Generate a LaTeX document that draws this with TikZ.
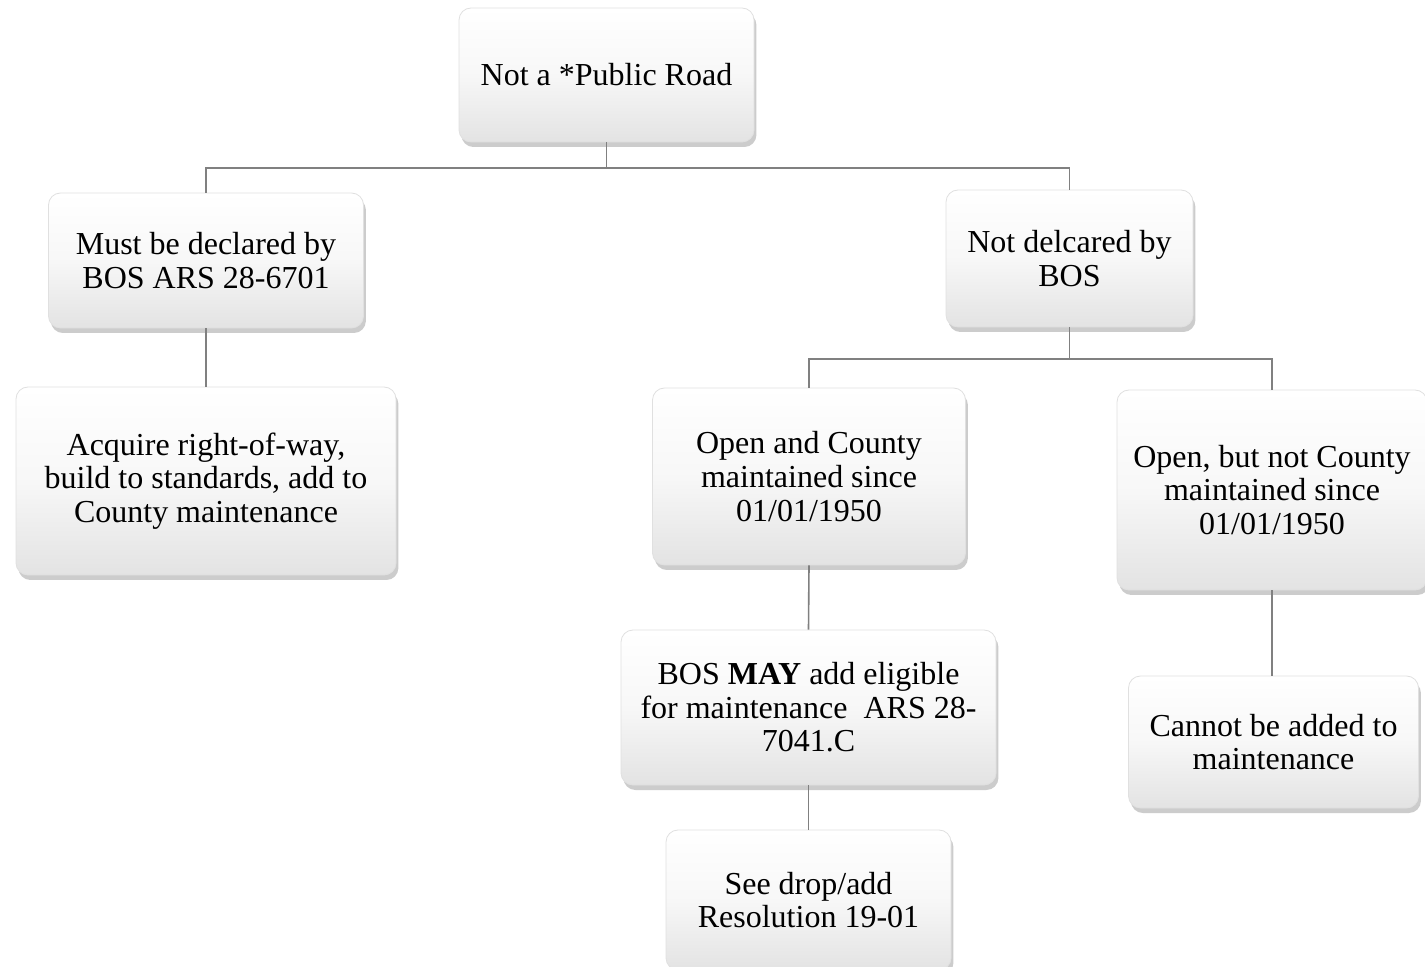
\documentclass[tikz,border=0pt]{standalone}
\usepackage{fontspec}
\setmainfont{Liberation Serif}
\usetikzlibrary{shadows}
\begin{document}
\begin{tikzpicture}[x=0.5pt,y=-0.5pt,
  box/.style={rounded corners=6pt, draw=black!12, line width=0.4pt,
    top color=white, bottom color=black!11, middle color=white!97!black,
    drop shadow={opacity=0.4, shadow xshift=1.2pt, shadow yshift=-2.5pt},
    align=center, inner sep=0pt,
    font=\fontsize{16pt}{16.8pt}\selectfont},
  conn/.style={draw=black!50, line width=0.8pt}]
\useasboundingbox (0,0) rectangle (1425,967);
\fill[white] (0,0) rectangle (1425,967);
\node[box, minimum width=147.5pt, minimum height=67pt] (root) at (606.5,75) {Not a *Public Road};
\node[box, minimum width=157.5pt, minimum height=67.5pt] (must) at (206,260.5) {Must be declared by\\BOS ARS 28-6701};
\node[box, minimum width=190pt, minimum height=94pt] (acq) at (206,481) {Acquire right-of-way,\\build to standards, add to\\County maintenance};
\node[box, minimum width=123.5pt, minimum height=68.5pt] (notd) at (1069.5,258.5) {Not delcared by\\BOS};
\node[box, minimum width=156.5pt, minimum height=88.5pt] (open) at (809,476.5) {Open and County\\maintained since\\01/01/1950};
\node[box, minimum width=155pt, minimum height=100pt] (opennot) at (1272,490) {Open, but not County\\maintained since\\01/01/1950};
\node[box, minimum width=187.5pt, minimum height=77.5pt] (may) at (808.5,707.5) {BOS \textbf{MAY} add eligible\\for maintenance\ \ ARS 28-\\7041.C};
\node[box, minimum width=142.5pt, minimum height=70pt] (see) at (808.5,900) {See drop/add\\Resolution 19-01};
\node[box, minimum width=145pt, minimum height=66pt] (cannot) at (1273.5,742) {Cannot be added to\\maintenance};
\draw[conn] (root.south) -- (root.south |- 0,168) -| (must.north);
\draw[conn] (root.south) -- (root.south |- 0,168) -| (notd.north);
\draw[conn] (must.south) -- (acq.north);
\draw[conn] (notd.south) -- (notd.south |- 0,359) -| (open.north);
\draw[conn] (notd.south) -- (notd.south |- 0,359) -| (opennot.north);
\draw[conn] (open.south) -- (may.north);
\draw[conn] (may.south) -- (see.north);
\draw[conn] (opennot.south) -- (opennot.south |- cannot.north);
\end{tikzpicture}
\end{document}
